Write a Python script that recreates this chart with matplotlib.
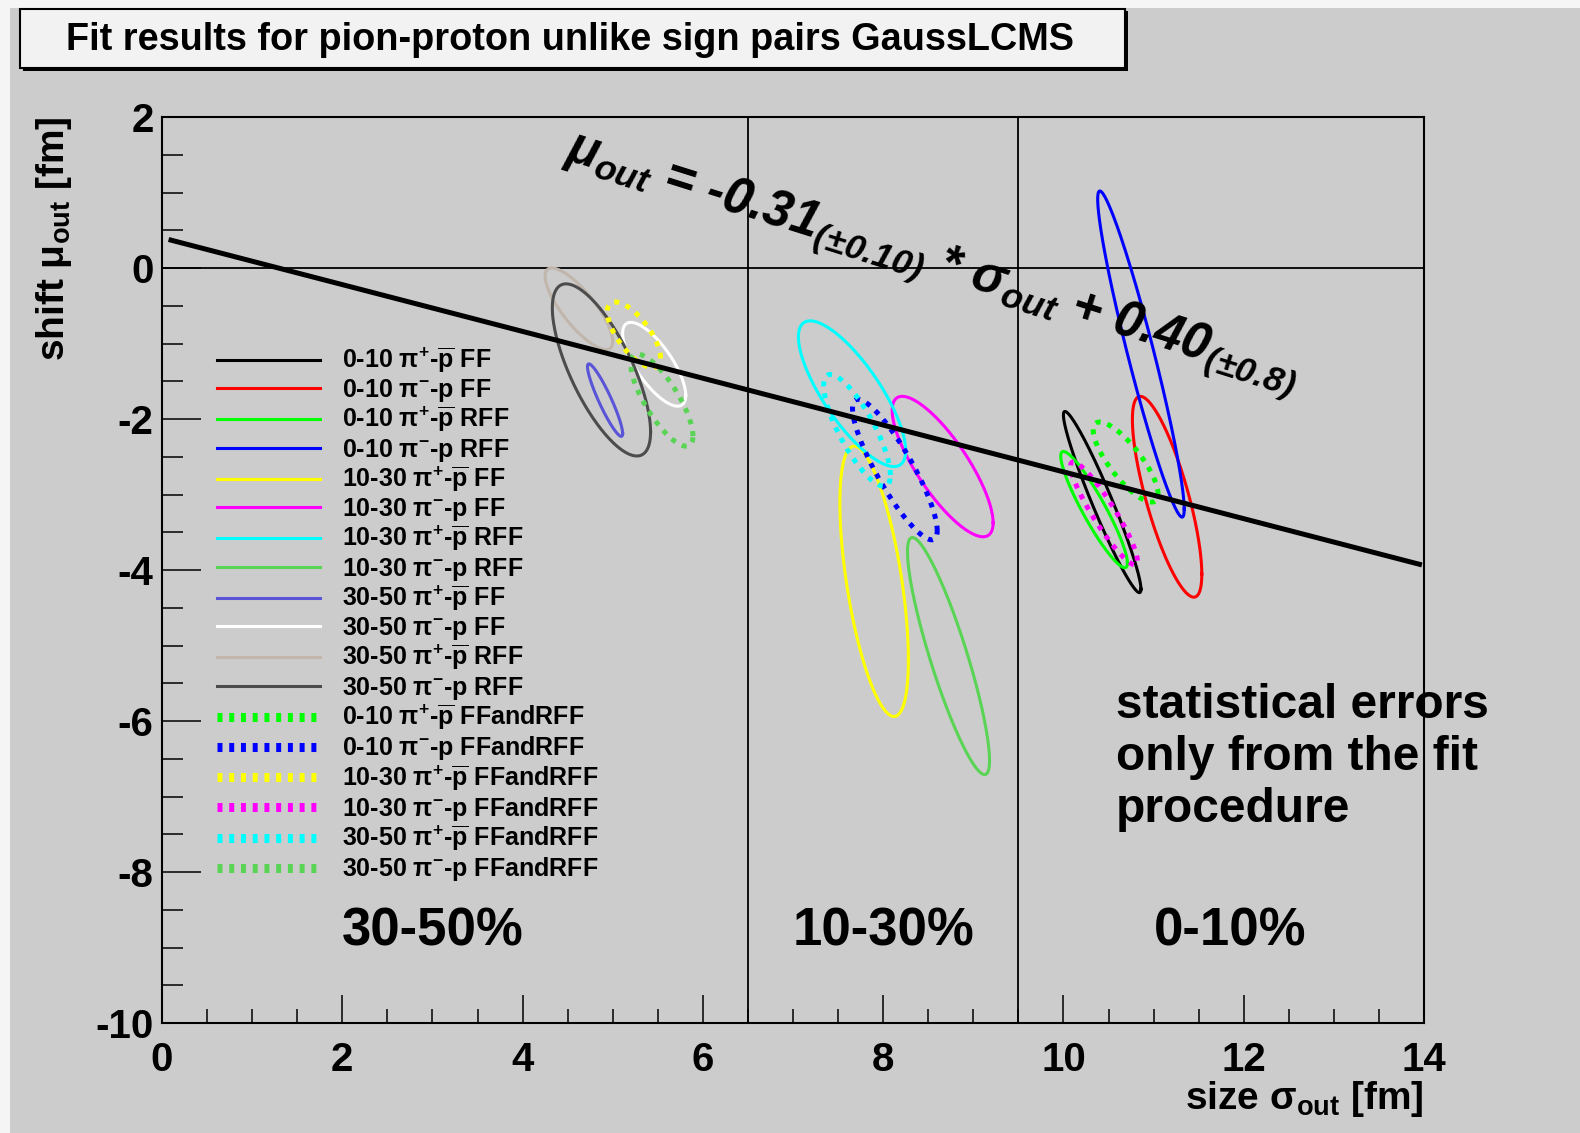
import numpy as np
import matplotlib
matplotlib.use("Agg")
import matplotlib.pyplot as plt
from matplotlib.patches import Rectangle
from matplotlib.ticker import MultipleLocator

plt.rcParams['font.family'] = ['Liberation Sans', 'DejaVu Sans']
plt.rcParams['font.weight'] = 'bold'
plt.rcParams['axes.labelweight'] = 'bold'
plt.rcParams['mathtext.fontset'] = 'custom'
plt.rcParams['mathtext.rm'] = 'Liberation Sans:bold'
plt.rcParams['mathtext.it'] = 'Liberation Sans:italic:bold'
plt.rcParams['mathtext.bf'] = 'Liberation Sans:bold'
plt.rcParams['axes.unicode_minus'] = False

# ---- fit results: one error contour per centrality / pair / fit method ----
labels = [
    "0-10 π$^{+}$-$\\overline{\\mathrm{p}}$ FF",
    "0-10 π$^{-}$-p FF",
    "0-10 π$^{+}$-$\\overline{\\mathrm{p}}$ RFF",
    "0-10 π$^{-}$-p RFF",
    "10-30 π$^{+}$-$\\overline{\\mathrm{p}}$ FF",
    "10-30 π$^{-}$-p FF",
    "10-30 π$^{+}$-$\\overline{\\mathrm{p}}$ RFF",
    "10-30 π$^{-}$-p RFF",
    "30-50 π$^{+}$-$\\overline{\\mathrm{p}}$ FF",
    "30-50 π$^{-}$-p FF",
    "30-50 π$^{+}$-$\\overline{\\mathrm{p}}$ RFF",
    "30-50 π$^{-}$-p RFF",
    "0-10 π$^{+}$-$\\overline{\\mathrm{p}}$ FFandRFF",
    "0-10 π$^{-}$-p FFandRFF",
    "10-30 π$^{+}$-$\\overline{\\mathrm{p}}$ FFandRFF",
    "10-30 π$^{-}$-p FFandRFF",
    "30-50 π$^{+}$-$\\overline{\\mathrm{p}}$ FFandRFF",
    "30-50 π$^{-}$-p FFandRFF",
]
sigma_out = [10.43, 11.15, 10.34, 10.86, 7.90, 8.66, 7.655, 8.725,
             4.915, 5.46, 4.625, 4.875, 10.69, 8.13, 5.235, 10.45, 7.71, 5.545]
mu_out = [-3.10, -3.03, -3.20, -1.14, -4.15, -2.63, -1.665, -5.14,
          -1.75, -1.275, -0.54, -1.35, -2.57, -2.67, -0.885, -3.25, -2.15, -1.75]
err_sigma = [0.43, 0.385, 0.37, 0.48, 0.38, 0.56, 0.595, 0.455,
             0.195, 0.35, 0.375, 0.545, 0.36, 0.47, 0.295, 0.37, 0.37, 0.345]
err_mu = [1.20, 1.33, 0.77, 2.16, 1.79, 0.93, 0.965, 1.57,
          0.48, 0.555, 0.54, 1.14, 0.53, 0.93, 0.435, 0.68, 0.74, 0.61]
corr = [-0.96, -0.77, -0.92, -0.95, -0.58, -0.80, -0.78, -0.88,
        -0.92, -0.74, -0.80, -0.72, -0.80, -0.87, -0.70, -0.92, -0.80, -0.78]

# linear fit mu_out = slope * sigma_out + intercept
fit_slope, fit_slope_err = -0.31, 0.10
fit_intercept, fit_intercept_err = 0.40, 0.8
fit_range = [0.1, 13.95]

centrality_edges = [6.5, 9.5]
region_labels = ['30-50%', '10-30%', '0-10%']

colors = ['#000000', '#ff0000', '#00ff00', '#0000ff', '#ffff00', '#ff00ff',
          '#00ffff', '#59d454', '#5954d8', '#ffffff', '#c0b6ac', '#4c4c4c',
          '#00ff00', '#0000ff', '#ffff00', '#ff00ff', '#00ffff', '#59d454']

fig = plt.figure(figsize=(15.8, 11.33), dpi=100, facecolor='#f5f5f5')
W, H = 1580.0, 1133.0
fig.patches.append(Rectangle((10 / W, 0), 1 - 10 / W, 1 - 8 / H,
                             transform=fig.transFigure, facecolor='#cccccc',
                             edgecolor='none', zorder=-10))

ax = fig.add_axes([162 / W, 1 - 1023 / H, 1262 / W, 906 / H])
ax.set_facecolor('#cccccc')
ax.set_xlim(0, 14)
ax.set_ylim(-10, 2)

for xe in centrality_edges:
    ax.axvline(xe, color='black', lw=1.3, zorder=1)
ax.axhline(0, color='black', lw=1.3, zorder=1)

t = np.linspace(0, 2 * np.pi, 300)
for i, lab in enumerate(labels):
    x = sigma_out[i] + err_sigma[i] * np.cos(t)
    y = mu_out[i] + err_mu[i] * (corr[i] * np.cos(t)
                                 + np.sqrt(1 - corr[i] ** 2) * np.sin(t))
    if 'FFandRFF' in lab:
        ax.plot(x, y, color=colors[i], lw=3.6, ls=(0, (1.0, 1.4)),
                label=lab, zorder=3)
    else:
        ax.plot(x, y, color=colors[i], lw=2.2, label=lab, zorder=2)

xf = np.array(fit_range)
ax.plot(xf, fit_slope * xf + fit_intercept, color='black', lw=3.6, zorder=4)

leg = ax.legend(loc='upper left', bbox_to_anchor=(0.0436, 0.7476),
                frameon=False, fontsize=18, handlelength=4.1,
                handletextpad=0.9, labelspacing=0.05, borderpad=0,
                borderaxespad=0)
for line, lab in zip(leg.get_lines(), labels):
    if 'FFandRFF' in lab:
        line.set_linewidth(6.5)
        line.set_linestyle((0, (0.55, 0.75)))

# axes styling
for sp in ax.spines.values():
    sp.set_linewidth(1.5)
ax.xaxis.set_major_locator(MultipleLocator(2))
ax.xaxis.set_minor_locator(MultipleLocator(0.5))
ax.yaxis.set_major_locator(MultipleLocator(2))
ax.yaxis.set_minor_locator(MultipleLocator(0.5))
ax.tick_params(which='both', direction='in', top=False, right=False, width=1.1)
ax.tick_params(axis='y', which='major', length=28, pad=6, labelsize=29)
ax.tick_params(axis='y', which='minor', length=15)
ax.tick_params(axis='x', which='major', length=20, pad=13, labelsize=29)
ax.tick_params(axis='x', which='minor', length=10)

ax.set_xlabel('size σ$_{\\mathdefault{out}}$ [fm]', fontsize=28, loc='right')
ax.xaxis.set_label_coords(1.0, -0.062)
ax.set_ylabel('shift μ$_{\\mathdefault{out}}$ [fm]', fontsize=28, loc='top')
ax.yaxis.set_label_coords(-0.070, 1.0)

# fit formula along the line
formula = ("μ$_{\\mathdefault{out}}$ = %.2f$_{\\mathdefault{(±%.2f)}}$ * "
           "σ$_{\\mathdefault{out}}$ + %.2f$_{\\mathdefault{(±%.1f)}}$"
           % (fit_slope, fit_slope_err, fit_intercept, fit_intercept_err))
ax.text(4.45, 1.45, formula, fontsize=36.5, fontstyle='italic', fontweight='bold',
        rotation=-17.5, rotation_mode='anchor', ha='left', va='baseline', zorder=5)

for lab, xc in zip(region_labels, [3.0, 8.0, 11.85]):
    ax.text(xc, -8.79, lab, fontsize=38, ha='center', va='center')

ax.text(10.58, -5.5, 'statistical errors\nonly from the fit\nprocedure',
        fontsize=34.5, ha='left', va='top', linespacing=1.19)

# title box with shadow
fig.patches.append(Rectangle((23 / W, 1 - 71 / H), 1105 / W, 60 / H,
                             transform=fig.transFigure, facecolor='black',
                             edgecolor='none', zorder=1))
fig.patches.append(Rectangle((20 / W, 1 - 68 / H), 1105 / W, 59 / H,
                             transform=fig.transFigure, facecolor='#f2f2f2',
                             edgecolor='black', lw=1.5, zorder=2))
fig.text(66 / W, 1 - 40 / H, 'Fit results for pion-proton unlike sign pairs GaussLCMS',
         fontsize=27.3, ha='left', va='center', zorder=3)

fig.savefig('out.png', dpi=100, facecolor=fig.get_facecolor())
